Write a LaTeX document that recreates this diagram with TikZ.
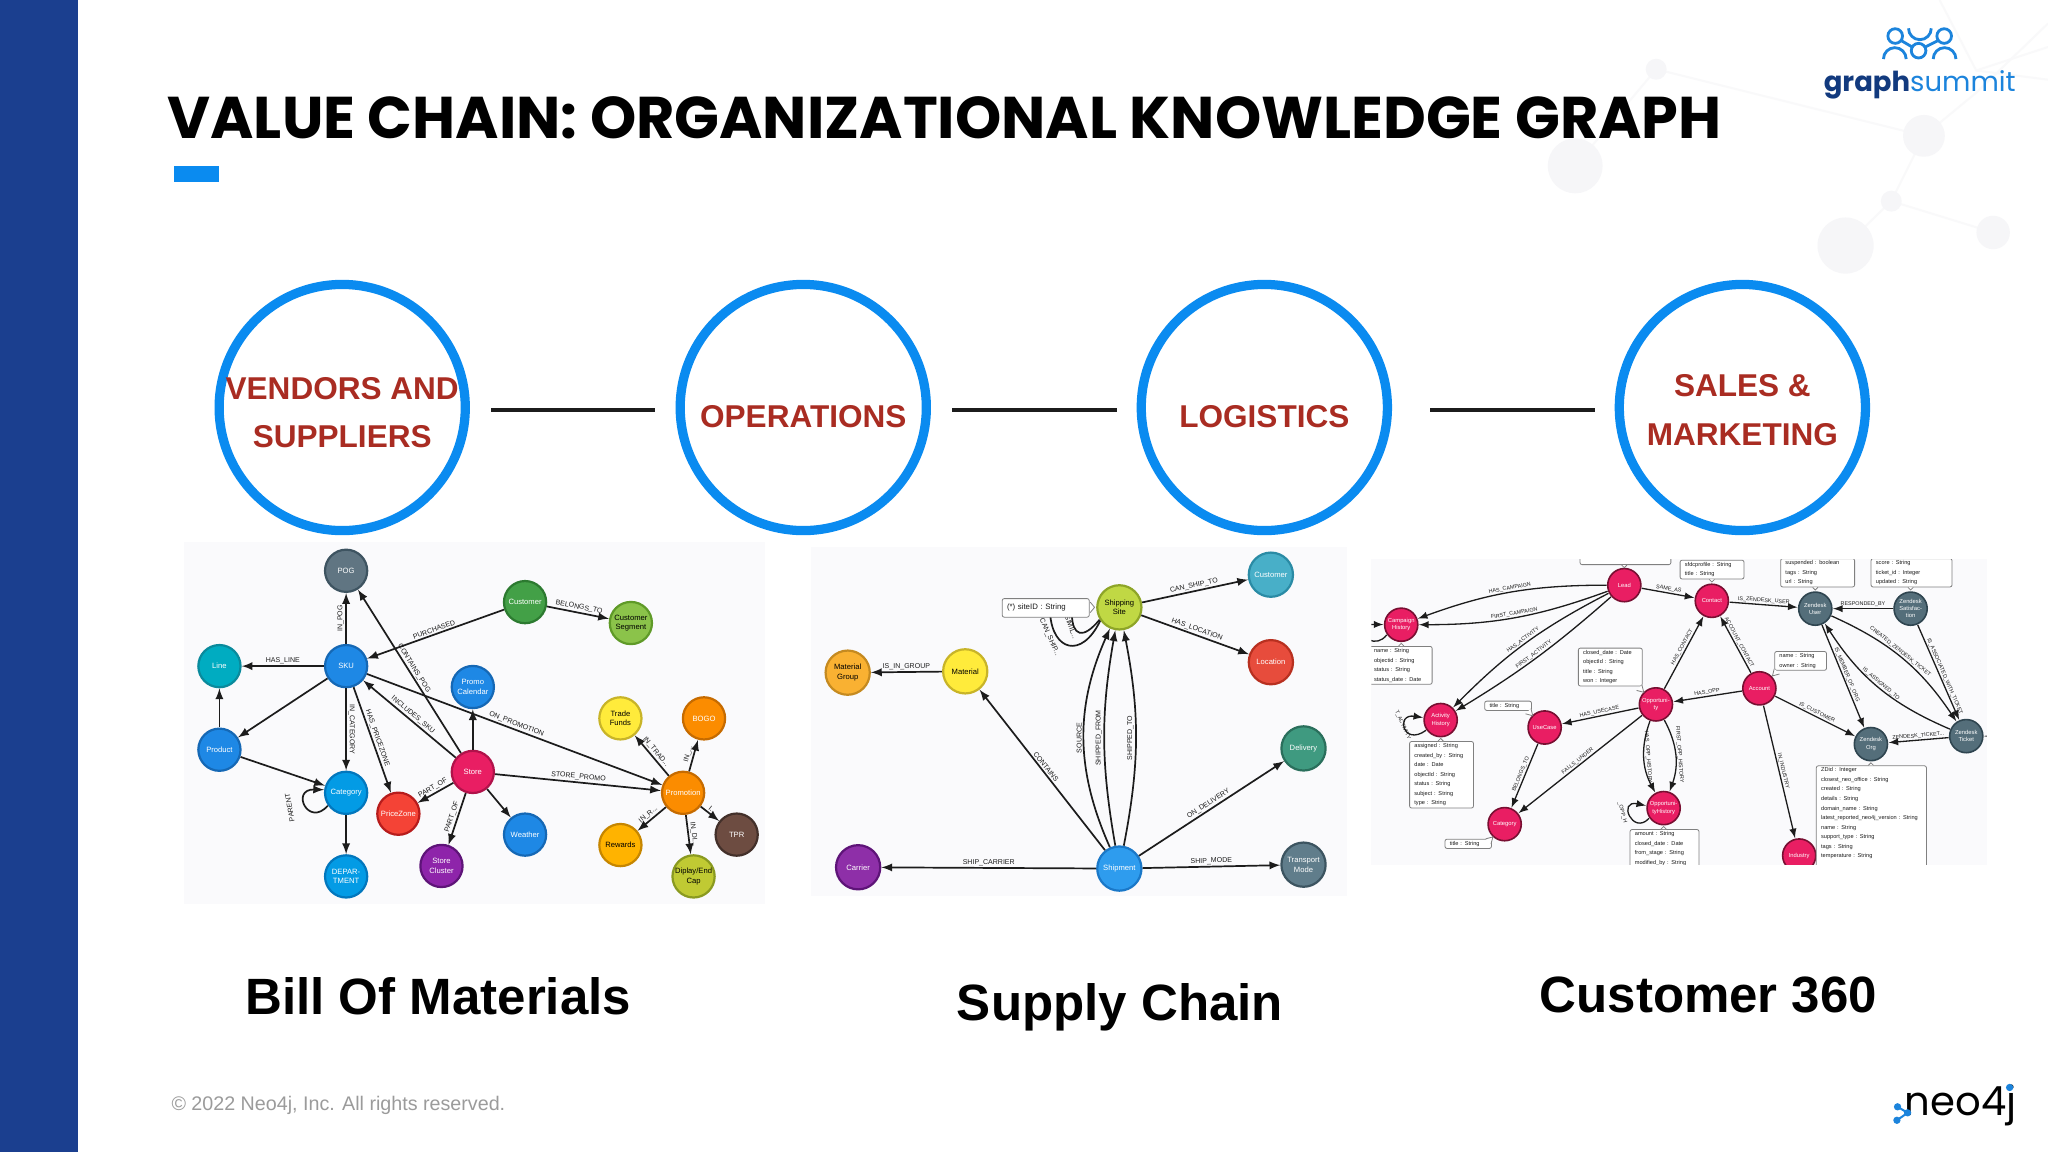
\documentclass[tikz,border=0pt]{standalone}
\usepackage{fontspec}
\setmainfont{Liberation Sans}
\newfontfamily\logofont{Poppins}
\definecolor{barblue}{HTML}{1B3F8F}
\definecolor{ringblue}{HTML}{0A8BF0}
\definecolor{ringtext}{HTML}{A92C22}
\definecolor{panelgray}{HTML}{FAFAFC}
\definecolor{faintgray}{HTML}{F6F6F8}
\definecolor{faintline}{HTML}{F9F9FA}
\definecolor{edgeink}{HTML}{1C1C1C}
\definecolor{logonavy}{HTML}{123A7E}
\definecolor{logoblue}{HTML}{1C84DC}
\tikzset{
    ring/.style = {circle, draw = ringblue, line width = 4.6pt, fill = white, minimum size = 122.5pt, inner sep = 0},
    ringlabel/.style = {font = \bfseries\fontsize{15.7}{24}\selectfont, text = ringtext, align = center},
    caption/.style = {font = \bfseries\fontsize{25.4}{30}\selectfont, text = black},
    bignode/.style = {circle, draw, line width = 1.1pt, minimum size = 21pt, inner sep = 0, outer sep = 0.6pt, align = center, text = white, font = \fontsize{3.8}{4.8}\selectfont},
    midnode/.style = {bignode, minimum size = 22pt},
    smallnode/.style = {bignode, minimum size = 16.5pt, line width = 0.8pt, font = \fontsize{2.9}{3.6}\selectfont},
    rel/.style = {-latex, line width = 0.85pt, draw = edgeink},
    thinrel/.style = {-latex, line width = 0.65pt, draw = edgeink},
    biglabel/.style = {sloped, above, inner sep = 0.7pt, text = edgeink, font = \fontsize{3.5}{4}\selectfont},
    smalllabel/.style = {sloped, above, inner sep = 0.5pt, text = edgeink, font = \fontsize{2.7}{3}\selectfont},
    tipbox/.style = {rectangle, draw = gray, line width = 0.4pt, rounded corners = 1pt, fill = white, align = left, inner xsep = 2.4pt, inner ysep = 1pt, text = edgeink, font = \fontsize{2.8}{4.75}\selectfont},
    tipmark/.style = {draw = gray, line width = 0.4pt, fill = white},
    faint/.style = {draw = faintline, line width = 1pt},
}
\begin{document}
\begin{tikzpicture}[x = 0.65pt, y = -0.65pt]
    \useasboundingbox (0, 0) rectangle (1568, 882);
    \fill [white] (0, 0) rectangle (1568, 882);
    % faint network behind the logo
    \draw [faint] (1268, 53) -- (1206, 127);
    \draw [faint] (1268, 53) -- (1473, 104) -- (1448, 154) -- (1413, 188);
    \draw [faint] (1448, 154) -- (1526, 178);
    \draw [faint] (1473, 104) -- (1513, 71) -- (1568, 18);
    \draw [faint] (1485, 0) -- (1513, 54) -- (1568, 61);
    \draw [faint] (1513, 54) -- (1568, 36);
    \fill [faintgray] (1473, 104) circle [radius = 16];
    \fill [faintgray] (1448, 154) circle [radius = 8];
    \fill [faintgray] (1413, 188) circle [radius = 21.5];
    \fill [faintgray] (1526, 178) circle [radius = 12.8];
    \fill [faintgray] (1206, 127) circle [radius = 21];
    \fill [faintgray] (1268, 53) circle [radius = 8];
    % left bar and title
    \fill [barblue] (0, 0) rectangle (60, 882);
    \fill [ringblue] (133, 127) rectangle (168, 139);
    \node [anchor = base west, inner sep = 0, font = \logofont\bfseries\fontsize{29.3}{36}\selectfont] (title) at (128, 106) {VALUE CHAIN: ORGANIZATIONAL KNOWLEDGE GRAPH};
    % rings
    \node [ring] (vendors) at (262, 312) {};
    \node [ring] (operations) at (615, 312) {};
    \node [ring] (logistics) at (968, 312) {};
    \node [ring] (sales) at (1334, 312) {};
    \node [ringlabel] (vendorstext) at (262, 316) {VENDORS AND\\SUPPLIERS};
    \node [ringlabel] (operationstext) at (615, 319) {OPERATIONS};
    \node [ringlabel] (logisticstext) at (968, 319) {LOGISTICS};
    \node [ringlabel] (salestext) at (1334, 314) {SALES \&\\MARKETING};
    \draw [line width = 2pt, edgeink, shorten < = 10.6pt, shorten > = 10pt] ([yshift = -1.3pt] vendors.east) -- ([yshift = -1.3pt] operations.west);
    \draw [line width = 2pt, edgeink, shorten < = 10.6pt, shorten > = 10pt] ([yshift = -1.3pt] operations.east) -- ([yshift = -1.3pt] logistics.west);
    \draw [line width = 2pt, edgeink, shorten < = 19pt, shorten > = 10pt] ([yshift = -1.3pt] logistics.east) -- ([yshift = -1.3pt] sales.west);
    % panels
    \fill [panelgray] (141, 415) rectangle (586, 692);
    \fill [panelgray] (621, 419) rectangle (1031, 686);
    \fill [panelgray] (1050, 428) rectangle (1521, 662);
    % bill of materials
    \node [bignode, fill = {rgb,255:red,96;green,117;blue,130}, draw = {rgb,255:red,62;green,84;blue,97}] (pog) at (265, 437) {POG};
    \node [bignode, fill = {rgb,255:red,67;green,160;blue,71}, draw = {rgb,255:red,44;green,122;blue,48}] (customer) at (402, 461) {Customer};
    \node [bignode, fill = {rgb,255:red,139;green,195;blue,74}, draw = {rgb,255:red,95;green,154;blue,40}, text = black] (segment) at (483, 477) {Customer\\Segment};
    \node [bignode, fill = {rgb,255:red,0;green,172;blue,193}, draw = {rgb,255:red,10;green,138;blue,156}] (line) at (168, 510) {Line};
    \node [bignode, fill = {rgb,255:red,30;green,136;blue,229}, draw = {rgb,255:red,21;green,104;blue,181}] (sku) at (265, 510) {SKU};
    \node [bignode, fill = {rgb,255:red,30;green,136;blue,229}, draw = {rgb,255:red,21;green,104;blue,181}] (promocal) at (362, 526) {Promo\\Calendar};
    \node [bignode, fill = {rgb,255:red,255;green,235;blue,59}, draw = {rgb,255:red,200;green,180;blue,40}, text = black] (trade) at (475, 550) {Trade\\Funds};
    \node [bignode, fill = {rgb,255:red,251;green,140;blue,0}, draw = {rgb,255:red,198;green,107;blue,0}] (bogo) at (539, 550) {BOGO};
    \node [bignode, fill = {rgb,255:red,30;green,136;blue,229}, draw = {rgb,255:red,21;green,104;blue,181}] (product) at (168, 574) {Product};
    \node [bignode, fill = {rgb,255:red,233;green,30;blue,99}, draw = {rgb,255:red,176;green,18;blue,74}] (store) at (362, 591) {Store};
    \node [bignode, fill = {rgb,255:red,251;green,140;blue,0}, draw = {rgb,255:red,198;green,107;blue,0}] (promotion) at (523, 607) {Promotion};
    \node [bignode, fill = {rgb,255:red,3;green,155;blue,229}, draw = {rgb,255:red,2;green,119;blue,189}] (category) at (265, 607) {Category};
    \node [bignode, fill = {rgb,255:red,244;green,67;blue,54}, draw = {rgb,255:red,183;green,28;blue,28}] (pricezone) at (305, 623) {PriceZone};
    \node [bignode, fill = {rgb,255:red,30;green,136;blue,229}, draw = {rgb,255:red,21;green,104;blue,181}] (weather) at (402, 639) {Weather};
    \node [bignode, fill = {rgb,255:red,109;green,76;blue,65}, draw = {rgb,255:red,67;green,48;blue,42}] (tpr) at (564, 639) {TPR};
    \node [bignode, fill = {rgb,255:red,255;green,179;blue,0}, draw = {rgb,255:red,198;green,134;blue,0}, text = black] (rewards) at (475, 647) {Rewards};
    \node [bignode, fill = {rgb,255:red,142;green,36;blue,170}, draw = {rgb,255:red,94;green,20;blue,120}] (cluster) at (338, 663) {Store\\Cluster};
    \node [bignode, fill = {rgb,255:red,3;green,155;blue,229}, draw = {rgb,255:red,2;green,119;blue,189}] (department) at (265, 671) {DEPAR-\\TMENT};
    \node [bignode, fill = {rgb,255:red,192;green,202;blue,51}, draw = {rgb,255:red,138;green,154;blue,32}, text = black] (display) at (531, 671) {Diplay/End\\Cap};
    \draw [rel] (sku) -- node [biglabel] {IN\_POG} (pog);
    \draw [rel] (store) -- node [biglabel] {CONTAINS\_POG} (pog);
    \draw [rel] (customer) -- node [biglabel] {PURCHASED} (sku);
    \draw [rel] (customer) -- node [biglabel] {BELONGS\_TO} (segment);
    \draw [rel] (sku) -- node [biglabel] {HAS\_LINE} (line);
    \draw [rel] (sku) -- (product);
    \draw [rel] (product) -- (line);
    \draw [rel] (product) -- (category);
    \draw [rel] (sku) -- node [biglabel] {IN\_CATEGORY} (category);
    \draw [rel] (category) -- (department);
    \draw [rel] (sku) -- node [biglabel] {HAS\_PRICEZONE} (pricezone);
    \draw [rel] (store) -- node [biglabel] {INCLUDES\_SKU} (sku);
    \draw [rel] (store) -- (promocal);
    \draw [rel] (sku) -- node [biglabel] {ON\_PROMOTION} (promotion);
    \draw [rel] (store) -- node [biglabel] {STORE\_PROMO} (promotion);
    \draw [rel] (store) -- node [biglabel] {PART\_OF} (pricezone);
    \draw [rel] (store) -- node [biglabel] {PART\_OF} (cluster);
    \draw [rel] (store) -- (weather);
    \draw [rel] (promotion) -- node [biglabel] {IN\_TRAD...} (trade);
    \draw [rel] (promotion) -- node [biglabel] {IN\_...} (bogo);
    \draw [rel] (promotion) -- node [biglabel] {I...} (tpr);
    \draw [rel] (promotion) -- node [biglabel] {IN\_DI...} (display);
    \draw [rel] (promotion) -- node [biglabel] {IN\_R...} (rewards);
    \draw [rel] (category.215) .. controls (236, 634) and (222, 604) .. (category.172);
    \node [biglabel, sloped = false, rotate = 100, inner sep = 0] (parentlabel) at (224, 618) {PARENT};
    % supply chain
    \node [midnode, fill = {rgb,255:red,72;green,175;blue,200}, draw = {rgb,255:red,42;green,139;blue,165}] (shipcustomer) at (973, 440) {Customer};
    \node [midnode, fill = {rgb,255:red,192;green,216;blue,68}, draw = {rgb,255:red,142;green,165;blue,40}, text = black] (shipsite) at (857, 465) {Shipping\\Site};
    \node [midnode, fill = {rgb,255:red,231;green,76;blue,60}, draw = {rgb,255:red,184;green,48;blue,32}] (location) at (973, 507) {Location};
    \node [midnode, fill = {rgb,255:red,255;green,235;blue,59}, draw = {rgb,255:red,200;green,180;blue,40}, text = black] (material) at (739, 514) {Material};
    \node [midnode, fill = {rgb,255:red,249;green,177;blue,50}, draw = {rgb,255:red,197;green,138;blue,32}, text = black] (matgroup) at (649, 515) {Material\\Group};
    \node [midnode, fill = {rgb,255:red,63;green,154;blue,128}, draw = {rgb,255:red,42;green,111;blue,92}] (delivery) at (998, 573) {Delivery};
    \node [midnode, fill = {rgb,255:red,142;green,47;blue,168}, draw = {rgb,255:red,94;green,20;blue,120}] (carrier) at (657, 664) {Carrier};
    \node [midnode, fill = {rgb,255:red,46;green,156;blue,238}, draw = {rgb,255:red,26;green,120;blue,200}] (shipment) at (857, 665) {Shipment};
    \node [midnode, fill = {rgb,255:red,96;green,125;blue,139}, draw = {rgb,255:red,60;green,84;blue,96}] (transport) at (998, 662) {Transport\\Mode};
    \draw [rel] (shipsite) -- node [biglabel] {CAN\_SHIP\_TO} (shipcustomer);
    \draw [rel] (shipsite) -- node [biglabel] {HAS\_LOCATION} (location);
    \draw [rel] (material) -- node [biglabel] {IS\_IN\_GROUP} (matgroup);
    \draw [rel] (shipment) -- node [biglabel] {CONTAINS} (material);
    \draw [rel] (shipment) to [bend left = 24] node [biglabel] {SOURCE} (shipsite);
    \draw [rel] (shipment) to [bend left = 10] node [biglabel] {SHIPPED\_FROM} (shipsite);
    \draw [rel] (shipment) to [bend right = 11] node [biglabel] {SHIPPED\_TO} (shipsite);
    \draw [rel] (shipment) -- node [biglabel] {ON\_DELIVERY} (delivery);
    \draw [rel] (shipment) -- node [biglabel] {SHIP\_CARRIER} (carrier);
    \draw [rel] (shipment) -- node [biglabel] {SHIP\_MODE} (transport);
    \draw [line width = 0.85pt, edgeink] (shipsite.215) .. controls (828, 505) and (806, 498) .. (804, 470);
    \draw [line width = 0.85pt, edgeink] (shipsite.212) .. controls (829, 490) and (821, 487) .. (820.6, 470);
    \node [biglabel, sloped = false, rotate = -66, inner sep = 0] (canshiplabel) at (801, 489) {CAN\_SHIP...};
    \node [biglabel, sloped = false, rotate = -70, inner sep = 0] (similarlabel) at (818, 481) {SIMIL...};
    \node [tipbox, anchor = north west, text width = 38.5pt, inner ysep = 2.8pt, font = \fontsize{3.9}{4.8}\selectfont] (sitetip) at (767, 458) {(*) siteID : String};
    \draw [tipmark] (834.7, 461) -- (838, 465) -- (834.7, 469);
    % customer 360
    \begin{scope}
        \clip (1050, 428) rectangle (1521, 662);
        \node [smallnode, fill = {rgb,255:red,233;green,30;blue,99}, draw = {rgb,255:red,120;green,15;blue,50}] (lead) at (1243.6, 448) {Lead};
        \node [smallnode, fill = {rgb,255:red,233;green,30;blue,99}, draw = {rgb,255:red,120;green,15;blue,50}] (campaign) at (1072.8, 478.3) {Campaign\\History};
        \node [smallnode, fill = {rgb,255:red,233;green,30;blue,99}, draw = {rgb,255:red,120;green,15;blue,50}] (activity) at (1103, 551.3) {Activity\\History};
        \node [smallnode, fill = {rgb,255:red,233;green,30;blue,99}, draw = {rgb,255:red,120;green,15;blue,50}] (usecase) at (1182.6, 557) {UseCase};
        \node [smallnode, fill = {rgb,255:red,233;green,30;blue,99}, draw = {rgb,255:red,120;green,15;blue,50}] (opportunity) at (1267.8, 539.3) {Opportuni-\\ty};
        \node [smallnode, fill = {rgb,255:red,233;green,30;blue,99}, draw = {rgb,255:red,120;green,15;blue,50}] (opphistory) at (1273.7, 618.7) {Opportuni-\\tyHistory};
        \node [smallnode, fill = {rgb,255:red,233;green,30;blue,99}, draw = {rgb,255:red,120;green,15;blue,50}] (crmcategory) at (1152, 631) {Category};
        \node [smallnode, fill = {rgb,255:red,233;green,30;blue,99}, draw = {rgb,255:red,120;green,15;blue,50}] (contact) at (1310.6, 460) {Contact};
        \node [smallnode, fill = {rgb,255:red,233;green,30;blue,99}, draw = {rgb,255:red,120;green,15;blue,50}] (account) at (1347, 527) {Account};
        \node [smallnode, fill = {rgb,255:red,233;green,30;blue,99}, draw = {rgb,255:red,120;green,15;blue,50}] (industry) at (1377.5, 655) {Industry};
        \node [smallnode, fill = {rgb,255:red,84;green,110;blue,122}, draw = {rgb,255:red,47;green,69;blue,80}] (zenuser) at (1389.8, 466) {Zendesk\\User};
        \node [smallnode, fill = {rgb,255:red,84;green,110;blue,122}, draw = {rgb,255:red,47;green,69;blue,80}] (zensat) at (1462.8, 466) {Zendesk\\Satisfac-\\tion};
        \node [smallnode, fill = {rgb,255:red,84;green,110;blue,122}, draw = {rgb,255:red,47;green,69;blue,80}] (zenorg) at (1432.4, 569.7) {Zendesk\\Org};
        \node [smallnode, fill = {rgb,255:red,84;green,110;blue,122}, draw = {rgb,255:red,47;green,69;blue,80}] (zenticket) at (1505.4, 563.6) {Zendesk\\Ticket};
        \coordinate (campaignstub) at (1040, 478);
        \coordinate (ticketstub) at (1530, 563.6);
        \draw [thinrel] (campaignstub) -- (campaign);
        \draw [thinrel] (ticketstub) -- (zenticket);
        \draw [line width = 0.65pt, edgeink] (campaign.215) .. controls (1058, 491) and (1053, 492) .. (1048, 490);
        \draw [thinrel] (lead) to [bend right = 10] node [smalllabel] {HAS\_CAMPAIGN} (campaign);
        \draw [thinrel] (lead) to [bend left = 10] node [smalllabel] {FIRST\_CAMPAIGN} (campaign);
        \draw [thinrel] (lead) to [bend right = 9] node [smalllabel] {HAS\_ACTIVITY} (activity);
        \draw [thinrel] (lead) to [bend left = 5] node [smalllabel] {FIRST\_ACTIVITY} (activity);
        \draw [thinrel] (lead) -- node [smalllabel] {SAME\_AS} (contact);
        \draw [thinrel] (opportunity) -- node [smalllabel, pos = 0.55] {HAS\_CONTACT} (contact);
        \draw [thinrel] (account) -- node [smalllabel] {ACCOUNT\_CONTACT} (contact);
        \draw [thinrel] (account) -- node [smalllabel] {HAS\_OPP} (opportunity);
        \draw [thinrel] (contact) -- node [smalllabel] {IS\_ZENDESK\_USER} (zenuser);
        \draw [thinrel] (opportunity) -- node [smalllabel] {HAS\_USECASE} (usecase);
        \draw [thinrel] (opportunity) -- node [smalllabel] {FALLS\_UNDER} (crmcategory);
        \draw [thinrel] (usecase) -- node [smalllabel] {BELONGS\_TO} (crmcategory);
        \draw [thinrel] (opportunity) to [bend right = 24] node [smalllabel] {HAS\_OPP\_HISTORY} (opphistory);
        \draw [thinrel] (opportunity) to [bend left = 24] node [smalllabel] {FIRST\_OPP\_HISTORY} (opphistory);
        \draw [thinrel] (account) -- node [smalllabel] {IS\_CUSTOMER} (zenorg);
        \draw [thinrel] (account) -- node [smalllabel] {IN\_INDUSTRY} (industry);
        \draw [thinrel] (zensat) -- node [smalllabel] {RESPONDED\_BY} (zenuser);
        \draw [thinrel] (zensat) -- node [smalllabel, pos = 0.56] {IS\_ASSOCIATED\_WITH\_TICKET} (zenticket);
        \draw [thinrel] (zenuser) to [bend left = 16] node [smalllabel, pos = 0.46] {CREATED\_ZENDESK\_TICKET} (zenticket);
        \draw [thinrel] (zenticket) to [bend left = 17] node [smalllabel] {IS\_ASSIGNED\_TO} (zenuser);
        \draw [thinrel] (zenuser) -- node [smalllabel] {IS\_MEMBER\_OF\_ORG} (zenorg);
        \draw [thinrel] (zenticket) -- node [smalllabel] {ZENDESK\_TICKET...} (zenorg);
        \draw [thinrel] (activity.215) .. controls (1074, 572) and (1068, 546) .. (activity.172);
        \draw [thinrel] (opphistory.215) .. controls (1250, 640) and (1238, 612) .. (opphistory.172);
        \node [smalllabel, sloped = false, rotate = -65, inner sep = 0] (activitylabel) at (1072, 556) {T\_ACTIVITY};
        \node [smalllabel, sloped = false, rotate = -75, inner sep = 0] (histlabel) at (1240, 623) {\_OPP\_H};
        \node [tipbox, anchor = south west, text width = 40.4pt, minimum height = 8pt] (leadtip) at (1209.4, 432.6) {~};
        \node [tipbox, anchor = south west, text width = 27pt] (contacttip) at (1286, 443.6) {sfdcprofile : String\\title : String};
        \node [tipbox, anchor = south west, text width = 32pt] (usertip) at (1363, 449.7) {suspended : boolean\\tags : String\\url : String};
        \node [tipbox, anchor = south west, text width = 35.5pt] (sattip) at (1432.2, 449.7) {score : String\\ticket\_id : Integer\\updated : String};
        \node [tipbox, anchor = north west, text width = 26.5pt] (campaigntip) at (1048, 494.6) {name : String\\objectid : String\\status : String\\status\_date : Date};
        \node [tipbox, anchor = north west, text width = 27pt] (activitytip) at (1078.9, 567.4) {assigned : String\\created\_by : String\\date : Date\\objectId : String\\status : String\\subject : String\\type : String};
        \node [tipbox, anchor = north west, text width = 27pt] (opptip) at (1208.1, 495.9) {closed\_date : Date\\objectId : String\\title : String\\won : Integer};
        \node [tipbox, anchor = north west, text width = 18.5pt] (usecasetip) at (1136.4, 536.5) {title : String};
        \node [tipbox, anchor = north west, text width = 18.3pt] (categorytip) at (1106, 642.2) {title : String};
        \node [tipbox, anchor = north west, text width = 29.5pt] (histtip) at (1247.7, 634.8) {amount : String\\closed\_date : Date\\from\_stage : String\\modified\_by : String};
        \node [tipbox, anchor = north west, text width = 21pt] (accounttip) at (1358.4, 498.5) {name : String\\owner : String};
        \node [tipbox, anchor = north west, text width = 50pt] (orgtip) at (1390.3, 586) {ZDid : Integer\\closest\_neo\_office : String\\created : String\\details : String\\domain\_name : String\\latest\_reported\_neo4j\_version : String\\name : String\\support\_type : String\\tags : String\\temperature : String\\~};
        \draw [tipmark] (1241.6, 432.6) -- (1243.6, 434.6) -- (1245.6, 432.6);
        \draw [tipmark] (1308.6, 443.6) -- (1310.6, 445.6) -- (1312.6, 443.6);
        \draw [tipmark] (1387.8, 449.7) -- (1389.8, 451.7) -- (1391.8, 449.7);
        \draw [tipmark] (1460.8, 449.7) -- (1462.8, 451.7) -- (1464.8, 449.7);
        \draw [tipmark] (1070.8, 494.6) -- (1072.8, 492.6) -- (1074.8, 494.6);
        \draw [tipmark] (1101, 567.4) -- (1103, 565.4) -- (1105, 567.4);
        \draw [tipmark] (1430.4, 586) -- (1432.4, 584) -- (1434.4, 586);
        \draw [tipmark] (1271.7, 634.8) -- (1273.7, 632.8) -- (1275.7, 634.8);
        \draw [tipmark] (1253, 528.6) -- (1258.5, 530) -- (1257.1, 524.6);
        \draw [tipmark] (1168, 546.5) -- (1173.5, 548) -- (1172.1, 542.5);
        \draw [tipmark] (1137.5, 642.2) -- (1143, 640.8) -- (1141.5, 646.2);
        \draw [tipmark] (1362.4, 516) -- (1357, 517.5) -- (1358.4, 512);
    \end{scope}
    % captions and footer
    \node [caption] (bomcaption) at (335.5, 763) {Bill Of Materials};
    \node [caption] (supplycaption) at (857.5, 771) {Supply Chain};
    \node [caption] (crmcaption) at (1308, 762) {Customer 360};
    \node [anchor = west, inner sep = 0, text = {rgb,255:red,155;green,155;blue,155}, font = \fontsize{9.8}{12}\selectfont] (copyright) at (131, 846) {© 2022 Neo4j, Inc. All rights reserved.};
    % graphsummit logo
    \draw [logoblue, line width = 1.4pt] (1451, 27.6) circle [radius = 5.6];
    \draw [logoblue, line width = 1.4pt] (1468.9, 38.8) circle [radius = 5.6];
    \draw [logoblue, line width = 1.4pt] (1488.5, 27.6) circle [radius = 5.6];
    \draw [logoblue, line width = 1.4pt] (1455.5, 31) -- (1464, 36);
    \draw [logoblue, line width = 1.4pt] (1474, 36) -- (1484, 31);
    \draw [logoblue, line width = 1.4pt] (1461.2, 21.7) arc [start angle = 180, end angle = 0, radius = 8.7];
    \draw [logoblue, line width = 1.4pt] (1442, 45.2) arc [start angle = 180, end angle = 360, radius = 8.7];
    \draw [logoblue, line width = 1.4pt] (1480.1, 45.2) arc [start angle = 180, end angle = 360, radius = 8.7];
    \node [anchor = base west, inner sep = 0, font = \logofont\bfseries\fontsize{13.7}{20}\selectfont, text = logonavy] (graphword) at (1396, 70) {graph\textcolor{logoblue}{\mdseries summit}};
    % neo4j logo
    \node [anchor = base west, inner sep = 0, font = \logofont\fontsize{20}{24}\selectfont, text = black] (neoword) at (1458, 854) {neo4j};
    \fill [logoblue] (1538.6, 832.6) circle [radius = 2.8];
    \draw [logoblue, line width = 1pt] (1452.8, 847.4) -- (1460.5, 852) -- (1452.3, 857.7);
    \fill [logoblue] (1452.8, 847.4) circle [radius = 2.8];
    \fill [logoblue] (1460.5, 852) circle [radius = 2.8];
    \fill [logoblue] (1452.3, 857.7) circle [radius = 2.8];
\end{tikzpicture}
\end{document}
